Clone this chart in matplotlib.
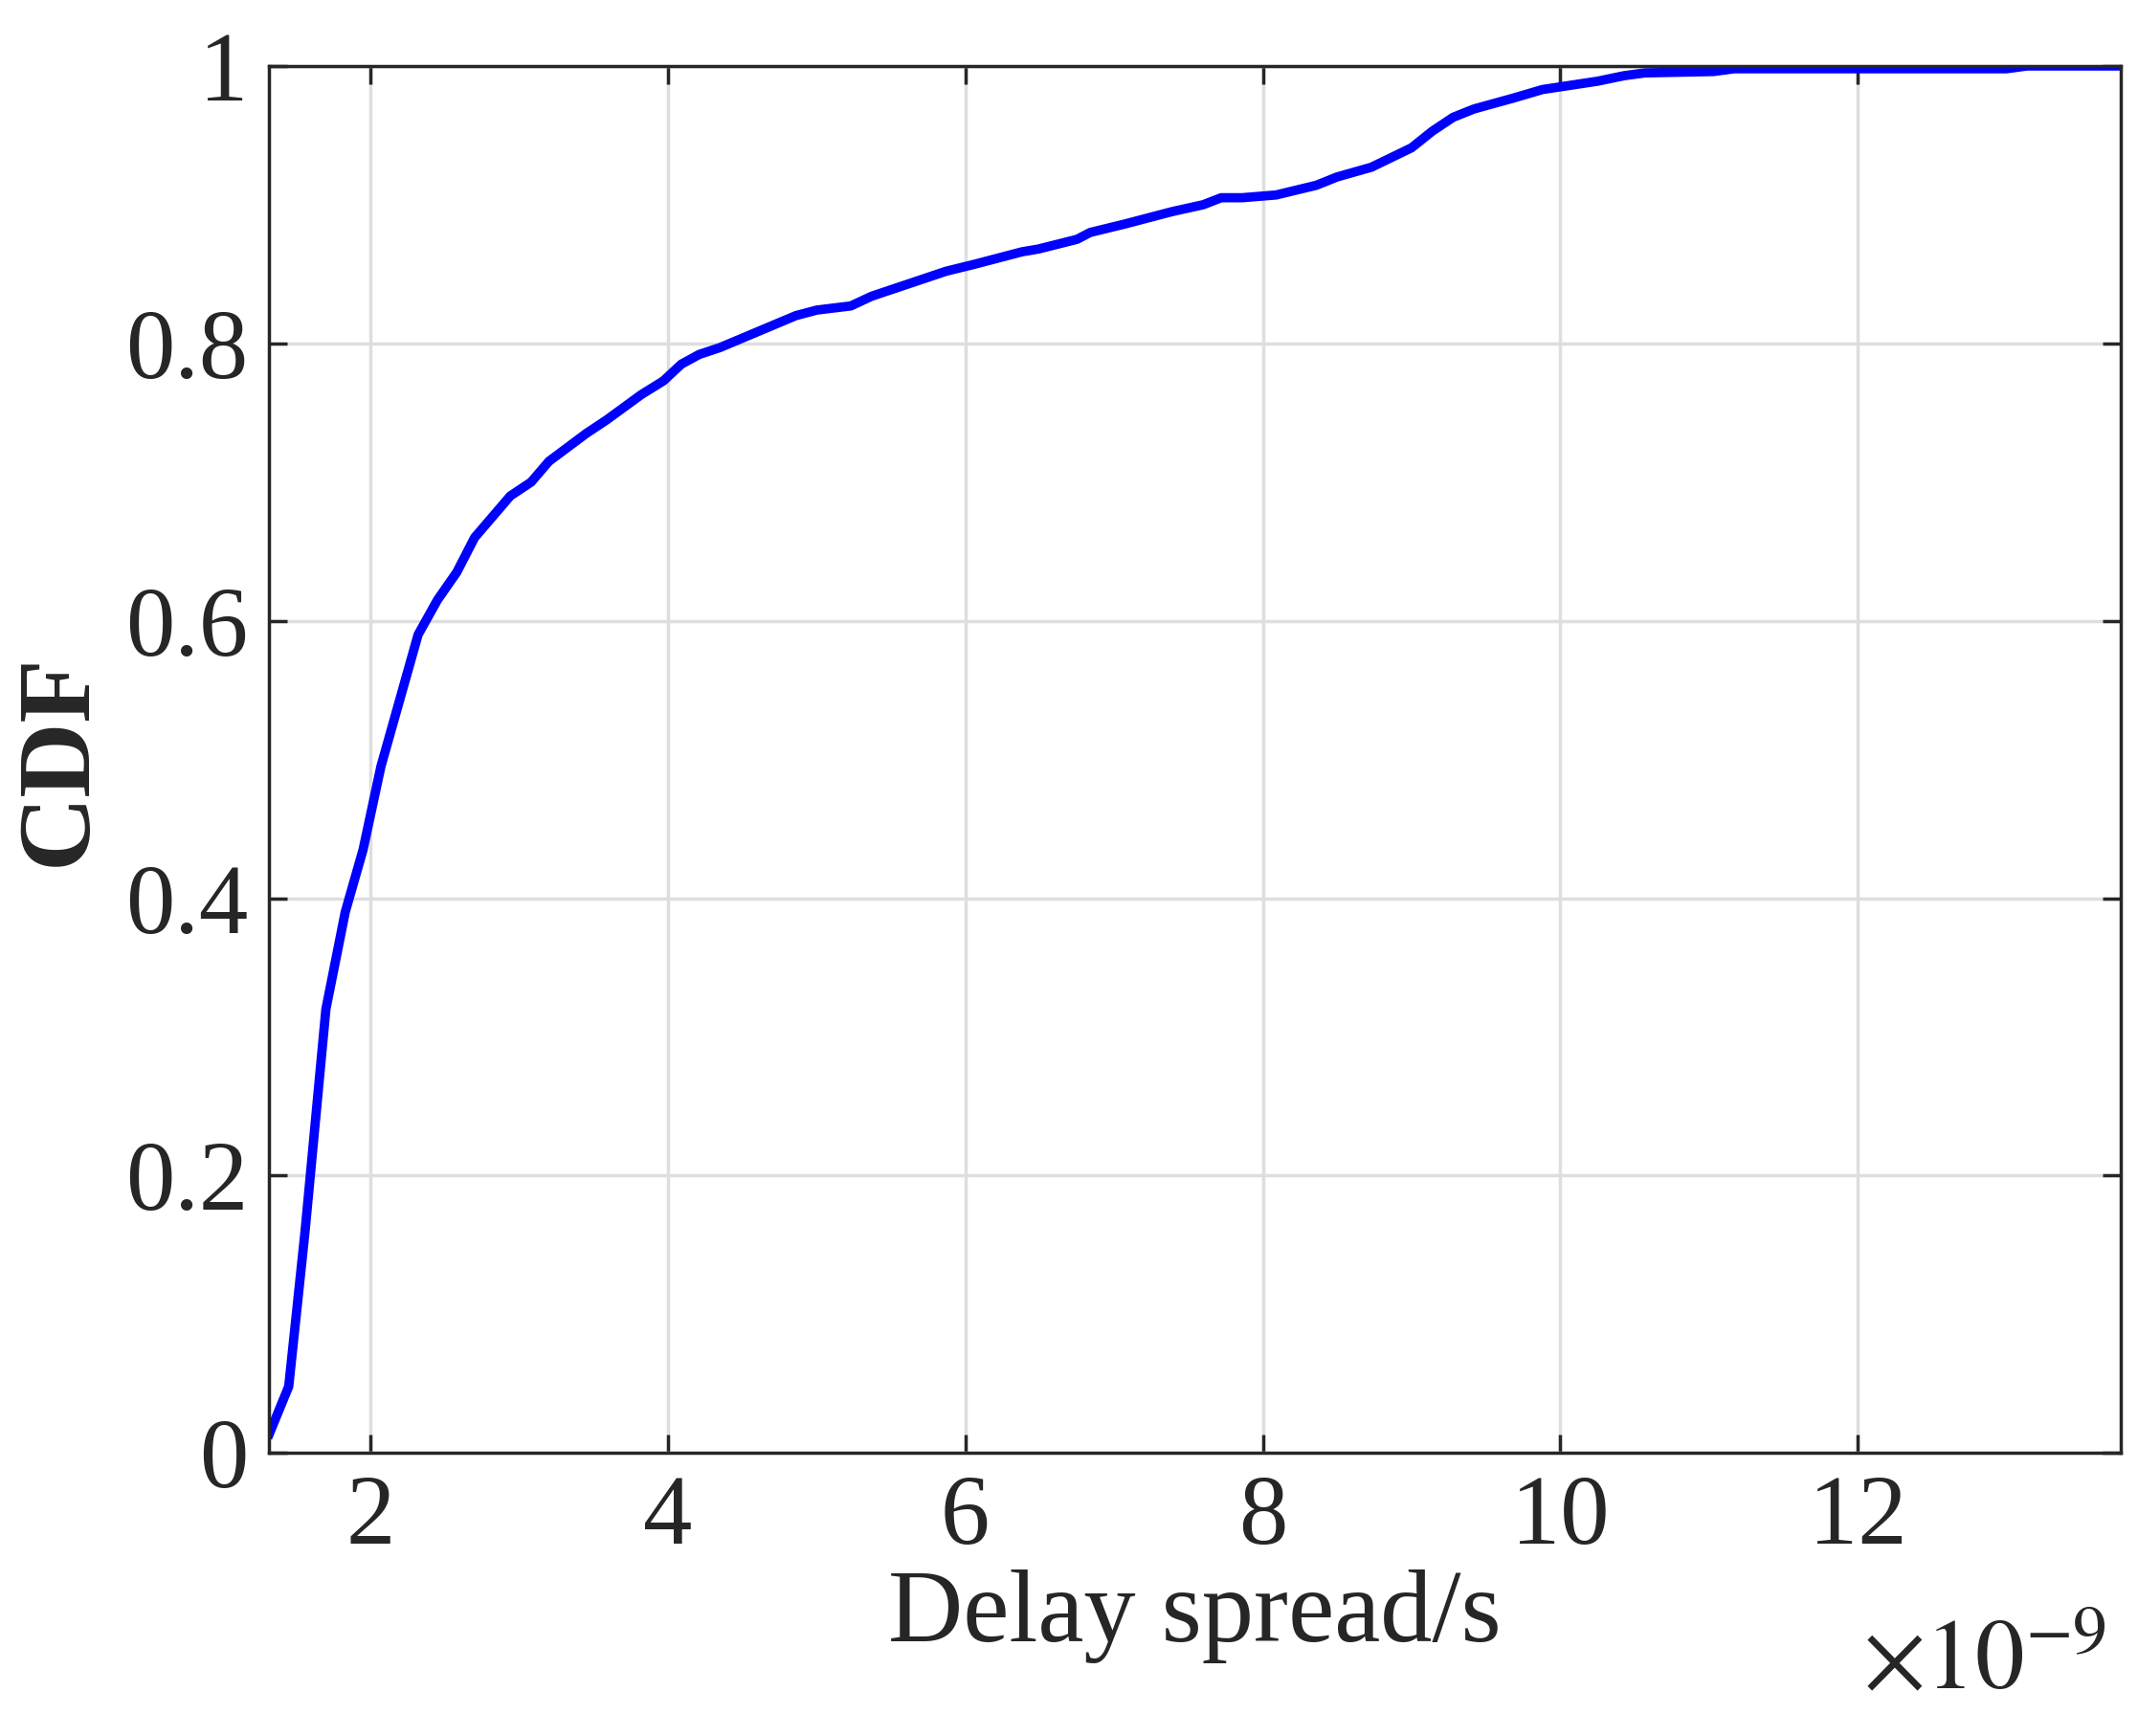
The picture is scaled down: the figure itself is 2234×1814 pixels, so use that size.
import numpy as np
import matplotlib.pyplot as plt

# delay spread values (units of 1e-9 s) and CDF values
delay_ns = [1.32, 1.45, 1.56, 1.70, 1.83, 1.95, 2.07, 2.32, 2.45, 2.58, 2.70, 2.94,
            3.08, 3.20, 3.45, 3.59, 3.82, 3.97, 4.09, 4.21, 4.35, 4.86, 5.00, 5.23,
            5.37, 5.87, 6.06, 6.38, 6.49, 6.75, 6.84, 7.07, 7.39, 7.60, 7.72, 7.86,
            8.09, 8.36, 8.50, 8.73, 9.00, 9.14, 9.28, 9.42, 9.69, 9.88, 10.25, 10.43,
            10.57, 11.03, 11.17, 13.00, 13.14, 13.77]
cdf = [0.014, 0.048, 0.16, 0.32, 0.39, 0.435, 0.495, 0.59, 0.615, 0.635, 0.66, 0.69,
       0.70, 0.715, 0.735, 0.745, 0.763, 0.773, 0.785, 0.792, 0.797, 0.82, 0.824, 0.827,
       0.834, 0.852, 0.857, 0.866, 0.868, 0.875, 0.880, 0.886, 0.895, 0.900, 0.905, 0.905,
       0.907, 0.914, 0.920, 0.927, 0.941, 0.953, 0.963, 0.969, 0.977, 0.983, 0.989, 0.993,
       0.995, 0.996, 0.998, 0.998, 1.0, 1.0]

x_ticks = [2, 4, 6, 8, 10, 12]
y_ticks = [0, 0.2, 0.4, 0.6, 0.8, 1]
y_labels = ['0', '0.2', '0.4', '0.6', '0.8', '1']

plt.rcParams['font.family'] = ['Liberation Serif', 'DejaVu Serif']
plt.rcParams['mathtext.fontset'] = 'stix'

fig = plt.figure(figsize=(22.34, 18.14), dpi=100)
ax = fig.add_axes([0.126, 0.163, 0.866, 0.799])

ax.plot(delay_ns, cdf, color='#0000ff', linewidth=7)
ax.set_xlim(1.32, 13.77)
ax.set_ylim(0, 1)
ax.set_xticks(x_ticks)
ax.set_xticklabels([str(t) for t in x_ticks])
ax.set_yticks(y_ticks)
ax.set_yticklabels(y_labels)
ax.grid(True, color='#dedede', linewidth=2.5)
ax.set_axisbelow(True)
ax.tick_params(direction='in', length=14, width=2.5, labelsize=74,
               top=True, right=True, colors='#262626', pad=16)
for s in ax.spines.values():
    s.set_linewidth(2.5)
    s.set_color('#262626')

ax.set_xlabel('Delay spread/s', fontsize=78, color='#262626', labelpad=4)
ax.set_ylabel('CDF', fontsize=78, color='#262626', labelpad=14, fontweight='bold')
fig.text(0.985, 0.015, r'$\times 10^{-9}$', fontsize=74, ha='right', va='bottom',
         color='#262626')

fig.savefig('out.png', dpi=100, facecolor='white')
